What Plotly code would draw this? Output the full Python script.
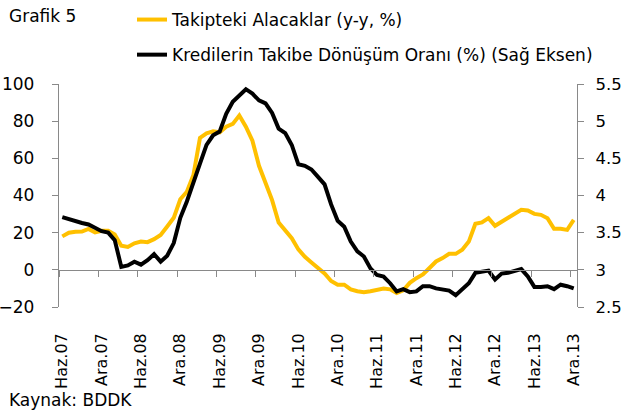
import plotly.graph_objects as go

# Monthly categories: Haz.07 (June 2007) ... Ara.13 (Dec 2013)
month_names = ["Oca", "Şub", "Mar", "Nis", "May", "Haz", "Tem", "Ağu", "Eyl", "Eki", "Kas", "Ara"]
start_year, start_month, n_months = 2007, 6, 79
categories = []
for i in range(n_months):
    mi = (start_month - 1 + i) % 12
    yr = start_year + (start_month - 1 + i) // 12
    categories.append(f"{month_names[mi]}.{yr % 100:02d}")

tick_labels = ["Haz.07", "Ara.07", "Haz.08", "Ara.08", "Haz.09", "Ara.09", "Haz.10",
               "Ara.10", "Haz.11", "Ara.11", "Haz.12", "Ara.12", "Haz.13", "Ara.13"]

# Takipteki Alacaklar (y-y, %) - left axis
takipteki = [18, 20, 20.5, 20.6, 22, 20.1, 21, 21, 19, 13,
             12.3, 14.3, 15.2, 14.9, 16.5, 18.8, 23.3, 28, 38, 42,
             51, 71, 73.5, 74.5, 74, 77, 78.5, 83, 77, 69.5,
             56, 47, 37.5, 25.5, 21.5, 17, 11, 7, 4, 1,
             -2, -6, -8, -8, -10.5, -11.5, -12, -11.5, -11, -10,
             -10.5, -12.5, -11, -7, -4.5, -2.5, 1, 4.5, 6.3, 8.6,
             8.6, 10.8, 15.2, 24.8, 25.5, 27.8, 23.7, 26, 27.8, 30.5,
             32.3, 31.9, 30.1, 29.6, 27.8, 22.1, 22.1, 21.5, 26.9]

# Kredilerin Takibe Dönüşüm Oranı (%) - right axis
donusum = [3.71, 3.68, 3.65, 3.63, 3.61, 3.57, 3.52, 3.50, 3.40, 3.04,
           3.06, 3.11, 3.07, 3.13, 3.21, 3.11, 3.19, 3.36, 3.70, 3.92,
           4.16, 4.43, 4.68, 4.81, 4.86, 5.10, 5.26, 5.35, 5.43, 5.37,
           5.28, 5.24, 5.11, 4.90, 4.84, 4.68, 4.42, 4.40, 4.35, 4.25,
           4.15, 3.88, 3.66, 3.58, 3.38, 3.25, 3.18, 3.02, 2.93, 2.91,
           2.82, 2.71, 2.74, 2.70, 2.71, 2.78, 2.78, 2.75, 2.73, 2.72,
           2.66, 2.74, 2.82, 2.96, 2.98, 2.99, 2.87, 2.95, 2.96, 2.98,
           3.01, 2.91, 2.77, 2.77, 2.78, 2.74, 2.80, 2.78, 2.75]

FONT = "DejaVu Sans"
FS = 17        # horizontal texts
FS_ROT = 16    # rotated month labels
AXIS_GREY = "#898989"
YELLOW = "#FFC000"
TXT = dict(family=FONT, size=FS, color="#000000")

fig = go.Figure()
fig.add_trace(go.Scatter(
    x=categories, y=takipteki, mode="lines", name="Takipteki Alacaklar (y-y, %)",
    line=dict(color=YELLOW, width=4), xaxis="x", yaxis="y", legendgroup="a"))
fig.add_trace(go.Scatter(
    x=categories, y=donusum, mode="lines",
    name="Kredilerin Takibe Dönüşüm Oranı (%) (Sağ Eksen)",
    line=dict(color="#000000", width=4), xaxis="x2", yaxis="y2", legendgroup="b"))

xr = [-0.5, n_months - 0.5]
fig.update_layout(
    width=622, height=419,
    margin=dict(l=59, r=45, t=84, b=112, autoexpand=False),
    paper_bgcolor="white", plot_bgcolor="white",
    font=TXT,
    showlegend=True,
    legend=dict(x=(132 - 59) / 518, y=1 + (84 - 2) / 223, xanchor="left", yanchor="top",
                orientation="v", tracegroupgap=10, bgcolor="rgba(0,0,0,0)", font=TXT),
    xaxis=dict(type="category", categoryorder="array", categoryarray=categories,
               range=xr, tickmode="array", tickvals=tick_labels, ticktext=tick_labels,
               tickangle=-90, ticks="", showline=False, showgrid=False, zeroline=False,
               ticklabelstandoff=22, tickfont=dict(family=FONT, size=FS_ROT, color="#000000")),
    xaxis2=dict(type="category", categoryorder="array", categoryarray=categories,
                range=xr, overlaying="x", anchor="free", position=20 / 120,
                side="bottom", tickmode="array", tickvals=tick_labels, tickson="boundaries",
                ticks="outside", ticklen=6, tickcolor=AXIS_GREY, tickwidth=1.3,
                showticklabels=False, showline=True, linecolor=AXIS_GREY, linewidth=1.3,
                showgrid=False, zeroline=False),
    yaxis=dict(range=[-20, 100], tickmode="linear", tick0=-20, dtick=20,
               ticks="outside", ticklen=6, tickcolor=AXIS_GREY, tickwidth=1.3,
               showline=True, linecolor=AXIS_GREY, linewidth=1.3,
               showgrid=False, zeroline=False, ticklabelstandoff=14, tickfont=TXT),
    yaxis2=dict(range=[2.5, 5.5], tickmode="linear", tick0=2.5, dtick=0.5,
                overlaying="y", side="right", anchor="x",
                ticks="outside", ticklen=6, tickcolor=AXIS_GREY, tickwidth=1.3,
                showline=True, linecolor=AXIS_GREY, linewidth=1.3,
                showgrid=False, zeroline=False, ticklabelstandoff=8,
                tickfont=dict(family=FONT, size=16.5, color="#000000")),
    annotations=[
        dict(text="Grafik 5", xref="paper", yref="paper", x=(7 - 59) / 518,
             y=1 + (84 - 16) / 223, xanchor="left", yanchor="middle", showarrow=False,
             font=TXT),
        dict(text="Kaynak: BDDK", xref="paper", yref="paper", x=(7 - 59) / 518,
             y=(307 - 400) / 223, xanchor="left", yanchor="middle", showarrow=False,
             font=TXT),
    ],
)

# remove the browser's default 8px body margin so the figure sits at the window origin
fig.write_html("out.html", config={"displayModeBar": False},
               post_script="document.body.style.margin='0px';")
